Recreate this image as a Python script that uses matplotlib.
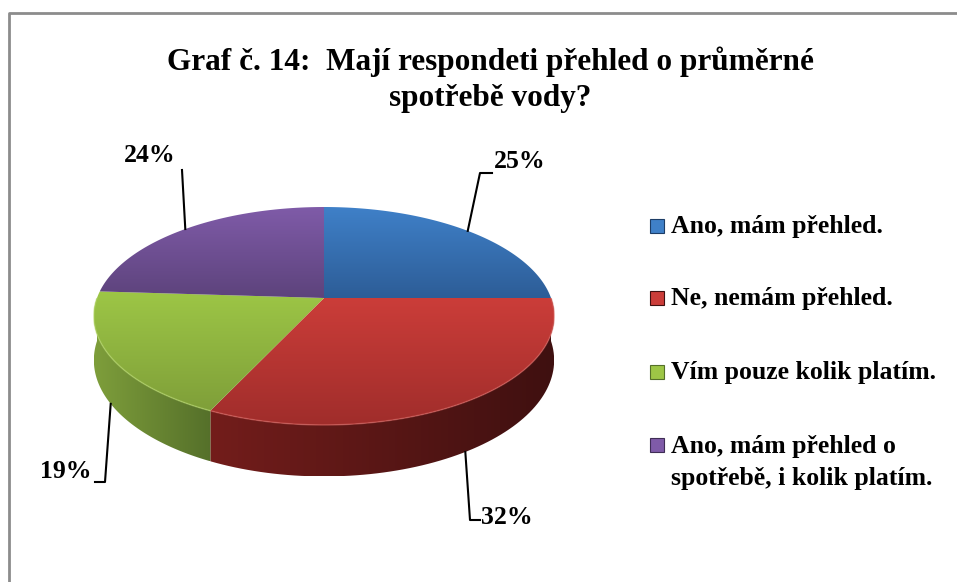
import numpy as np
import matplotlib
matplotlib.use("Agg")
import matplotlib.pyplot as plt
from matplotlib.patches import Polygon, Rectangle
from matplotlib.lines import Line2D

# data
labels = ["Ano, mám přehled.", "Ne, nemám přehled.", "Vím pouze kolik platím.",
          "Ano, mám přehled o\nspotřebě, i kolik platím."]
shares = [25, 32, 19, 24]
title = "Graf č. 14:  Mají respondeti přehled o průměrné\nspotřebě vody?"

# styles: (top light, top dark, side light, side dark, rim)
colors = [
    ("#3f80c8", "#2d5d97", "#2a558a", "#1d3d66", "#5a95d8"),
    ("#cb3d39", "#a02d2b", "#731d1b", "#3f1010", "#d9625e"),
    ("#9dc646", "#7f9f39", "#7e9e3b", "#55702a", "#b6d86a"),
    ("#7f5ba8", "#5d437c", "#5d437c", "#3f2d55", "#9a7bc0"),
]

FONT = ["Liberation Serif", "DejaVu Serif"]

# perspective pie geometry (pixels)
CX, CY = 324, 298
A, C, K, H = 227, 106, 0.165, 43


def project(t, depth=0.0):
    X, Y = np.cos(t), np.sin(t)
    w = 1 + K * Y
    return CX + A * X / w, CY - C * Y / w + depth / w


def grad_fill(ax, verts, c1, c2, horizontal=False, z=2):
    verts = np.asarray(verts)
    poly = Polygon(verts, closed=True, facecolor="none", edgecolor="none", zorder=z)
    ax.add_patch(poly)
    x0, y0 = verts.min(axis=0)
    x1, y1 = verts.max(axis=0)
    c1 = np.array(matplotlib.colors.to_rgb(c1))
    c2 = np.array(matplotlib.colors.to_rgb(c2))
    s = np.linspace(0, 1, 128)
    g = c1[None, :] * (1 - s[:, None]) + c2[None, :] * s[:, None]
    img = g[None, :, :] if horizontal else g[:, None, :]
    im = ax.imshow(img, extent=(x0, x1, y1, y0), aspect="auto", zorder=z,
                   interpolation="bilinear")
    im.set_clip_path(poly)


fig = plt.figure(figsize=(9.57, 5.82), dpi=100)
ax = fig.add_axes([0, 0, 1, 1])
ax.set_xlim(0, 957)
ax.set_ylim(582, 0)
ax.axis("off")

# chart frame
ax.add_line(Line2D([9, 9, 960], [600, 13, 13], color="#8c8c8c", lw=2, zorder=1))

frac = np.array(shares) / sum(shares)
bounds = np.radians(90 - 360 * np.concatenate([[0], np.cumsum(frac)]))


def front_range(ts, te):
    for off in (0, 2 * np.pi):
        lo, hi = max(te + off, -np.pi), min(ts + off, 0.0)
        if hi > lo:
            return lo, hi
    return None


# side faces (front half only)
for i in range(len(shares)):
    rng = front_range(bounds[i], bounds[i + 1])
    if rng is None:
        continue
    lo, hi = rng
    tt = np.linspace(hi, lo, 80)
    topx, topy = project(tt)
    botx, boty = project(tt[::-1], H)
    verts = np.column_stack([np.concatenate([topx, botx]), np.concatenate([topy, boty])])
    grad_fill(ax, verts, colors[i][2], colors[i][3], horizontal=True, z=2)

# top faces
for i in range(len(shares)):
    tt = np.linspace(bounds[i], bounds[i + 1], 120)
    x, y = project(tt)
    verts = np.column_stack([np.concatenate([[CX], x]), np.concatenate([[CY], y])])
    grad_fill(ax, verts, colors[i][0], colors[i][1], z=3)
    rng = front_range(bounds[i], bounds[i + 1])
    if rng is not None:
        rx, ry = project(np.linspace(rng[1], rng[0], 80))
        ax.plot(rx, ry, color=colors[i][4], lw=1.1, alpha=0.55, zorder=3.5,
                solid_capstyle="butt")

# data labels with leader lines (order follows slices)
elbows = [[(480, 173), (492, 173)], [(470, 520), (480, 520)],
          [(105, 482), (95, 482)], [(182, 170)]]
text_pos = [(494, 161, "left"), (481, 518, "left"), (92, 471, "right"),
            (150, 155, "center")]
for i, v in enumerate(shares):
    tm = (bounds[i] + bounds[i + 1]) / 2
    depth = H if np.sin(tm) < 0 else 0
    ax0, ay0 = project(tm, depth)
    xs = [ax0] + [p[0] for p in elbows[i]]
    ys = [ay0] + [p[1] for p in elbows[i]]
    ax.add_line(Line2D(xs, ys, color="black", lw=1.5, zorder=4))
    tx, ty, ha = text_pos[i]
    ax.text(tx, ty, f"{v}%", ha=ha, va="center", fontsize=18.5, fontweight="bold",
            family=FONT, zorder=5)

# legend
leg_y = [226, 298, 372, 445]
for i, lab in enumerate(labels):
    y = leg_y[i]
    ax.add_patch(Rectangle((650, y - 7), 14, 14, facecolor=colors[i][0],
                           edgecolor=colors[i][3], lw=0.8, zorder=4))
    multi = "\n" in lab
    ax.text(671, y + 18 if multi else y, lab, ha="left", va="center",
            fontsize=18.5, fontweight="bold", family=FONT, zorder=5, linespacing=1.5)

# title
ax.text(490, 80, title, ha="center", va="center", fontsize=22.5, fontweight="bold",
        family=FONT, linespacing=1.3)

fig.savefig("out.png", dpi=100, facecolor="white")
